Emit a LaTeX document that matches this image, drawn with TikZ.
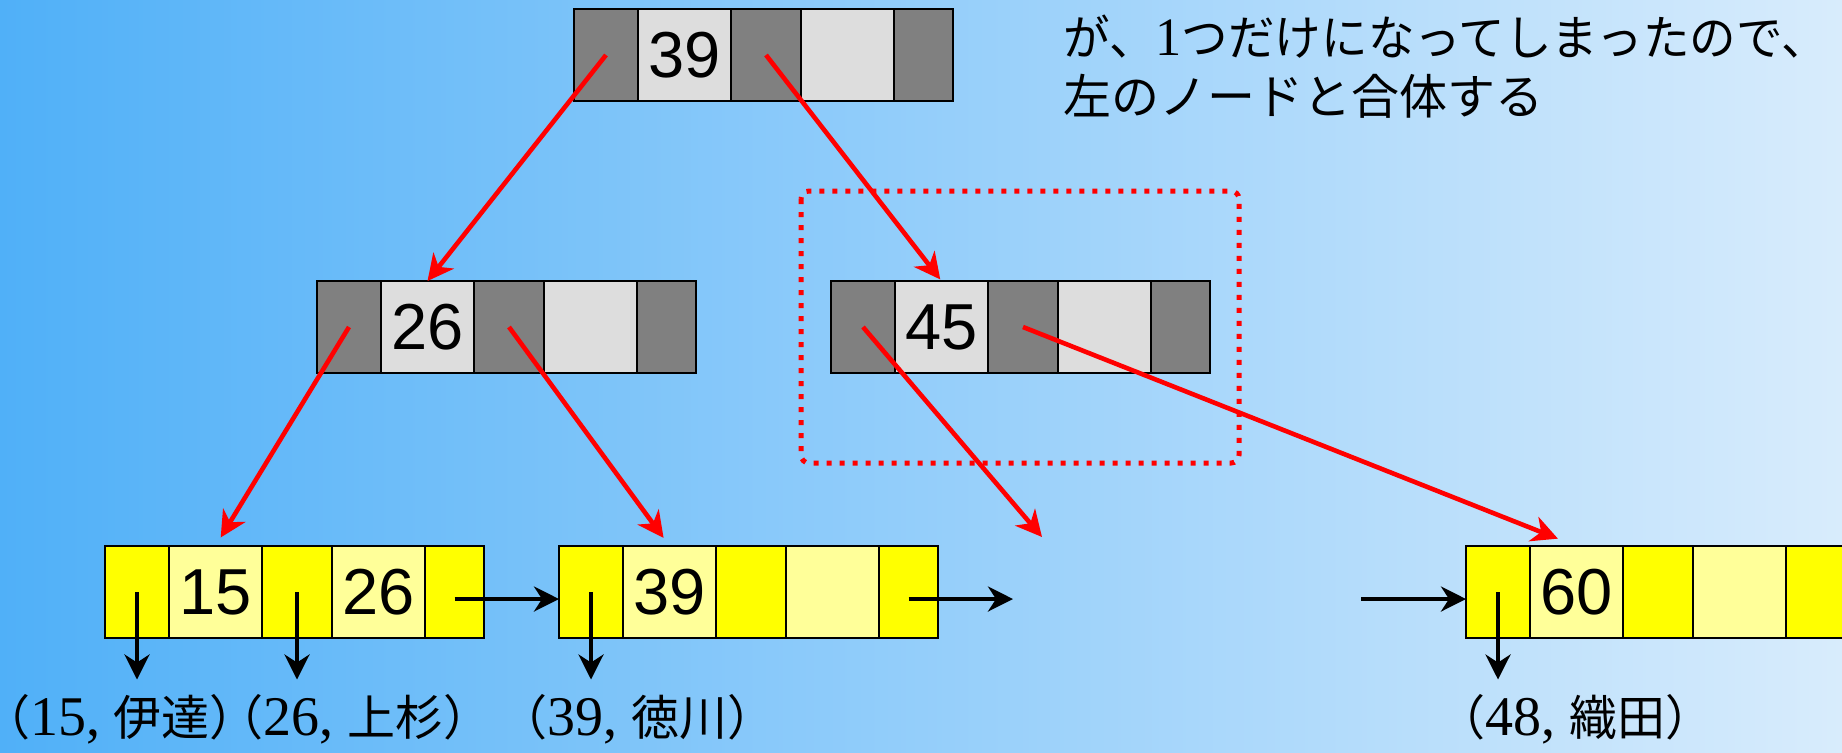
\documentclass[tikz,border=0pt]{standalone}
\usepackage{fontspec}
\setmainfont{Liberation Serif}
\newfontfamily\jpfont{Noto Sans CJK JP}
\newfontfamily\cellfont{Liberation Sans}
\usetikzlibrary{arrows.meta,positioning}
\definecolor{bgleft}{RGB}{80,176,248}
\definecolor{bgright}{RGB}{216,236,252}
\definecolor{ptrgray}{RGB}{128,128,128}
\definecolor{keygray}{RGB}{221,221,221}
\definecolor{ptryel}{RGB}{255,255,0}
\definecolor{keyyel}{RGB}{255,255,153}
\tikzset{
  cell/.style={draw, line width=1.3pt, fill=#1, minimum height=46pt, inner sep=0pt,
    outer sep=0pt, font=\cellfont\fontsize{32.5}{36}\selectfont},
  redln/.style={-{Stealth[length=13pt,width=13pt,inset=4pt]}, line width=2.3pt, red},
  blkln/.style={-{Stealth[length=12.5pt,width=12.5pt,inset=4pt]}, line width=2pt, black},
  mergebox/.style={red, line width=2.5pt, dash pattern=on 2.5pt off 4pt, rounded corners=4pt},
  recnode/.style={anchor=base, inner sep=0pt, font=\jpfont\fontsize{24}{28}\selectfont},
  msgtext/.style={anchor=base west, inner sep=0pt, font=\jpfont\fontsize{24}{28}\selectfont},
}
% one B+ tree node: name, north west corner, key 1, key 2, pointer colour, key colour
\newcommand{\bpnode}[6]{%
  \node[cell=#5, minimum width=32pt, anchor=north west] (#1-1) at #2 {};
  \node[cell=#6, minimum width=46.5pt, right=0pt of #1-1] (#1-2) {#3};
  \node[cell=#5, minimum width=35pt, right=0pt of #1-2] (#1-3) {};
  \node[cell=#6, minimum width=46.5pt, right=0pt of #1-3] (#1-4) {#4};
  \node[cell=#5, minimum width=29.5pt, right=0pt of #1-4] (#1-5) {};
}
\newcommand{\recnum}[1]{{\rmfamily\fontsize{28}{30}\selectfont #1, }}

\begin{document}
\begin{tikzpicture}[x=0.5pt, y=-0.5pt]
  \useasboundingbox (0,0) rectangle (1842,752);
  \clip (0,0) rectangle (1842,752);
  \shade[left color=bgleft, right color=bgright] (0,0) rectangle (1842,752);
  % underfull node
  \draw[mergebox] (801,191) rectangle (1239,463);
  \bpnode{T}{(574,9)}{39}{}{ptrgray}{keygray}
  \bpnode{ML}{(317,281)}{26}{}{ptrgray}{keygray}
  \bpnode{MR}{(831,281)}{45}{}{ptrgray}{keygray}
  \bpnode{L1}{(105,546)}{15}{26}{ptryel}{keyyel}
  \bpnode{L2}{(559,546)}{39}{}{ptryel}{keyyel}
  \bpnode{L3}{(1466,546)}{60}{}{ptryel}{keyyel}
  \node[msgtext] (msg1) at (1063,55) {\scalebox{0.97}[1]{が、{\rmfamily\fontsize{27}{30}\selectfont 1}つだけになってしまったので、}};
  \node[msgtext] (msg2) at (1063,114) {左のノードと合体する};
  % records
  \node[recnode] (r1) at (120,735) {（\recnum{15}伊達）};
  \node[recnode] (r2) at (353,735) {（\recnum{26}上杉）};
  \node[recnode] (r3) at (637,735) {（\recnum{39}徳川）};
  \node[recnode] (r4) at (1575,735) {（\recnum{48}織田）};
  \coordinate (gone) at (1042,537);
  \coordinate (nx2) at (1013,599);
  \coordinate (nx3) at (1361,599);
  % child pointers
  \draw[redln] (T-1.center) -- (ML-2.north);
  \draw[redln, shorten >=1pt] (T-3.center) -- (MR-2.north);
  \draw[redln, shorten >=5pt] (ML-1.center) -- (L1-2.north);
  \draw[redln, shorten >=5pt] (ML-3.center) -- (L2-2.north);
  \draw[redln] (MR-1.center) -- (gone);
  \draw[redln, shorten >=10pt] (MR-3.center) -- (L3-2.north);
  % leaf chain
  \draw[blkln] ([yshift=-3.5pt]L1-5.center) -- ([yshift=-3.5pt]L2-1.west);
  \draw[blkln] ([yshift=-3.5pt]L2-5.center) -- (nx2);
  \draw[blkln] (nx3) -- ([yshift=-3.5pt]L3-1.west);
  % data pointers
  \draw[blkln, shorten >=7pt] (L1-1.center) -- (L1-1.center |- r1.north);
  \draw[blkln, shorten >=7pt] (L1-3.center) -- (L1-3.center |- r2.north);
  \draw[blkln, shorten >=7pt] (L2-1.center) -- (L2-1.center |- r3.north);
  \draw[blkln, shorten >=7pt] (L3-1.center) -- (L3-1.center |- r4.north);
\end{tikzpicture}
\end{document}
